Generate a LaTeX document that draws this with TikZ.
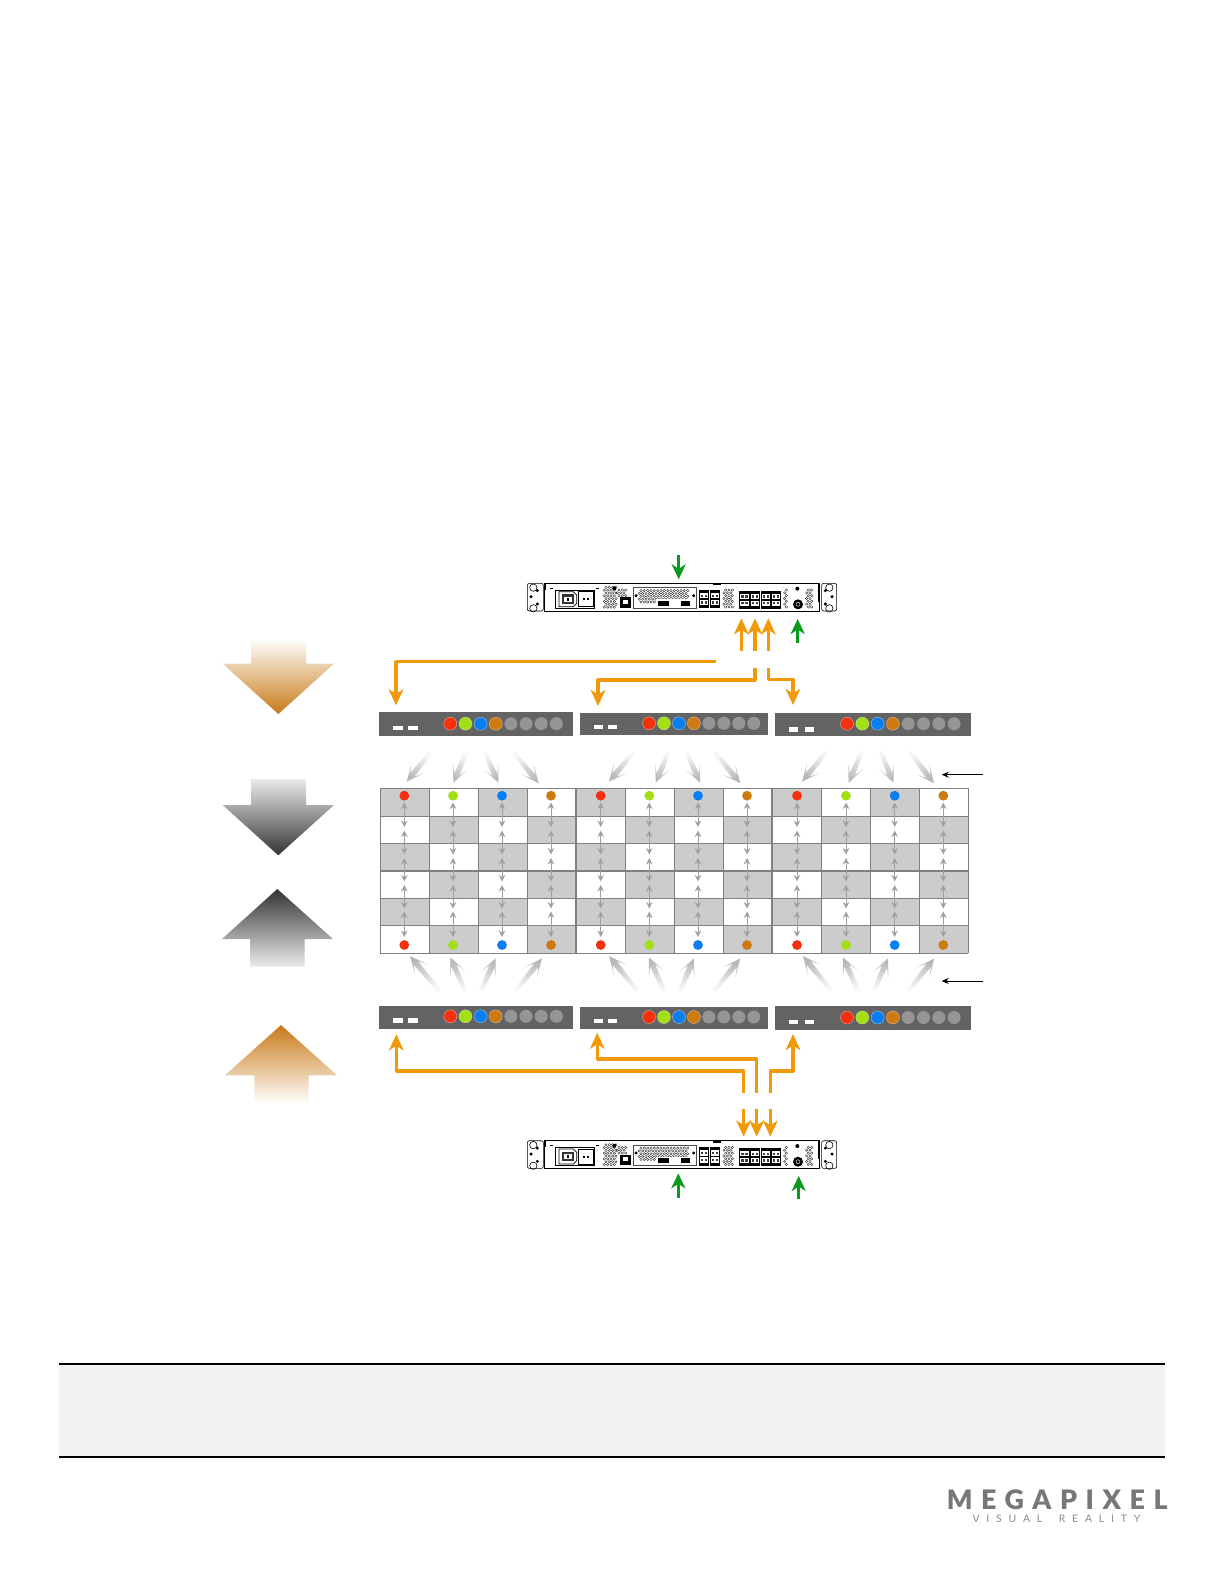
\documentclass[tikz,border=0pt]{standalone}
\usepackage{fontspec}
\setmainfont{Lato}
\newfontfamily\logobig[LetterSpace=32,BoldFont=Lato Black]{Lato}
\newfontfamily\logosmall[LetterSpace=66]{Lato}
\usetikzlibrary{arrows.meta,calc}
\definecolor{panelgray}{HTML}{636363}
\definecolor{ledgray}{HTML}{959595}
\definecolor{cellgray}{HTML}{CCCCCC}
\definecolor{gridline}{HTML}{808080}
\definecolor{flowgray}{HTML}{B8B8B8}
\definecolor{tinyarrow}{HTML}{A0A0A0}
\definecolor{cred}{HTML}{F5300F}
\definecolor{cgreen}{HTML}{A2E013}
\definecolor{cblue}{HTML}{0A7EF0}
\definecolor{cbrown}{HTML}{CF7A10}
\definecolor{linkorange}{HTML}{F09A0A}
\definecolor{linkgreen}{HTML}{0A9A1E}
\definecolor{bigbrown}{HTML}{C87A18}
\definecolor{bigdark}{HTML}{333333}
\definecolor{logogray}{HTML}{777777}
\definecolor{logolight}{HTML}{8C8C8C}
\definecolor{bandgray}{HTML}{F2F2F2}
\tikzset{
  panelbox/.style={fill=panelgray,draw=none,inner sep=0pt,anchor=north west},
  ledon/.style={circle,minimum size=13pt,inner sep=0pt,draw=white,draw opacity=.55,line width=.4pt},
  ledoff/.style={circle,minimum size=13pt,inner sep=0pt,fill=ledgray},
  griddot/.style={circle,minimum size=9.8pt,inner sep=0pt},
  orangelink/.style={draw=linkorange,line width=3.2pt,line join=round,-{Stealth[length=16pt,width=14.5pt,inset=4.5pt]}},
  greenlink/.style={draw=linkgreen,line width=3.4pt,-{Stealth[length=15pt,width=14pt,inset=4.5pt]}},
  tinylink/.style={draw=tinyarrow,line width=1pt,{Stealth[length=6.5pt,width=6.5pt]}-{Stealth[length=6.5pt,width=6.5pt]}},
  blacklink/.style={draw=black,line width=.9pt,-{Stealth[length=7pt,width=6pt]}},
  devline/.style={draw=black,line width=.6pt},
}
% fading flow arrow: tail x,y -> tip x,y
\newcommand\flowarrow[4]{%
  \pgfmathsetmacro\ax{#1}\pgfmathsetmacro\ay{#2}\pgfmathsetmacro\bx{#3}\pgfmathsetmacro\by{#4}%
  \pgfmathsetmacro\ddx{\bx-\ax}\pgfmathsetmacro\ddy{\by-\ay}%
  \pgfmathsetmacro\LL{sqrt(\ddx*\ddx+\ddy*\ddy)}%
  \pgfmathsetmacro\ux{\ddx/\LL}\pgfmathsetmacro\uy{\ddy/\LL}%
  \pgfmathsetmacro\phiang{atan2(-\uy,\ux)+90}%
  \shade[top color=flowgray!12,middle color=flowgray,bottom color=flowgray,shading angle=\phiang]
    ({\ax-\uy*2},{\ay+\ux*2}) -- ({\bx-\ux*9-\uy*2.8},{\by-\uy*9+\ux*2.8})
    -- ({\bx-\ux*18-\uy*8.2},{\by-\uy*18+\ux*8.2}) -- (\bx,\by)
    -- ({\bx-\ux*18+\uy*8.2},{\by-\uy*18-\ux*8.2}) -- ({\bx-\ux*9+\uy*2.8},{\by-\uy*9-\ux*2.8})
    -- ({\ax+\uy*2},{\ay-\ux*2}) -- cycle;%
}
% vent: x0,y0,cols,rows in device units
\newcommand\ventgrid[4]{%
  \foreach \vi in {1,...,#3}{\foreach \vj in {1,...,#4}{%
    \draw[black!85,line width=.35pt] ({#1+(\vi-1)*10+mod(\vj,2)*5},{#2+(\vj-1)*8.5}) circle[radius=3.6];}}%
}
\newcommand\rjport[2]{%
  \fill[black] (#1,#2) rectangle ++(31,55);
  \fill[white] ({#1+3},{#2+9}) rectangle ++(25,16);
  \fill[white] ({#1+3},{#2+30}) rectangle ++(25,16);
  \fill[black!75] ({#1+6},{#2+14}) rectangle ++(7,7);
  \fill[black!75] ({#1+18},{#2+14}) rectangle ++(7,7);
  \fill[black!75] ({#1+6},{#2+34}) rectangle ++(7,7);
  \fill[black!75] ({#1+18},{#2+34}) rectangle ++(7,7);
}
% device drawing in zoom units, origin = zoom corner
\newcommand\rackunit[2]{%
\begin{scope}[shift={(#1,#2)},x=.33333pt,y=-.33333pt]
  \draw[devline,rounded corners=2pt] (52,130) rectangle (100,213);
  \draw[devline,rounded corners=2pt] (935,130) rectangle (980,213);
  \draw[devline] (70,143) circle[radius=11]; \draw[devline] (70,205) circle[radius=11];
  \fill (63,170) circle[radius=5]; \fill (82,152) circle[radius=5]; \fill (82,192) circle[radius=5];
  \draw[devline] (958,143) circle[radius=11]; \draw[devline] (958,205) circle[radius=11];
  \fill (966,170) circle[radius=5]; \fill (946,152) circle[radius=5]; \fill (946,192) circle[radius=5];
  \draw[black,line width=.9pt] (103,130) rectangle (928,213);
  \fill (103,130) rectangle (108,150); \fill (923,130) rectangle (928,185);
  \fill (608,130) rectangle (634,136);
  \draw[black,line width=.8pt] (137,150) rectangle (253,205);
  \draw[black,line width=.7pt] (147,155) -- (190,155) -- (200,165) -- (200,190) -- (190,200) -- (147,200) -- cycle;
  \draw[black,line width=.7pt] (205,155) rectangle (250,200);
  \fill[black!80] (155,163) rectangle (192,192);
  \fill[white] (162,170) rectangle (185,185);
  \fill (170,173) rectangle (177,182);
  \fill (218,175) rectangle (224,181); \fill (232,175) rectangle (238,181);
  \fill (120,143) rectangle (128,147); \fill (258,143) rectangle (266,147);
  \ventgrid{283}{142}{4}{8}
  \ventgrid{322}{150}{3}{3}
  \fill (313,145) circle[radius=6];
  \fill (330,172) rectangle (362,203); \fill[white] (338,180) rectangle (354,192);
  \draw[black!70,line width=.6pt] (370,143) rectangle (560,205);
  \ventgrid{388}{152}{15}{5}
  \fill (378,167) circle[radius=5]; \fill (551,167) circle[radius=5];
  \fill[white] (438,178) rectangle (545,202);
  \fill (443,183) rectangle (478,197); \fill (513,183) rectangle (540,197);
  \rjport{567}{150}\rjport{599}{150}
  \ventgrid{642}{150}{3}{7}
  \rjport{688}{152}\rjport{720}{152}\rjport{752}{152}\rjport{783}{152}
  \ventgrid{824}{150}{1}{7}
  \ventgrid{890}{150}{2}{7}
  \fill (862,146) circle[radius=6];
  \fill (864,193) circle[radius=15]; \draw[white,line width=.4pt] (864,193) circle[radius=6];
\end{scope}}
\begin{document}
\begin{tikzpicture}[x=1pt,y=-1pt]
\useasboundingbox (0,0) rectangle (1224,1584);
\fill[white] (0,0) rectangle (1224,1584);

% left big arrows
\shade[top color=white,bottom color=bigbrown] (251,638.3) -- (306,638.3) -- (306,663.7) -- (334,663.7) -- (278.3,714) -- (222.7,663.7) -- (251,663.7) -- cycle;
\shade[top color=white!92!black,bottom color=bigdark] (251,779) -- (306,779) -- (306,805) -- (334,805) -- (278.3,855.3) -- (222.7,805) -- (251,805) -- cycle;
\shade[top color=bigdark,bottom color=white!92!black] (250,966.7) -- (304.7,966.7) -- (304.7,939) -- (333,939) -- (277.3,889) -- (222,939) -- (250,939) -- cycle;
\shade[top color=bigbrown,bottom color=white] (254.3,1104) -- (308.7,1104) -- (308.7,1075.3) -- (337,1075.3) -- (281,1025) -- (225,1075.3) -- (254.3,1075.3) -- cycle;

% devices
\rackunit{510}{540}
\rackunit{510}{1097.4}

% panels
\node[panelbox,minimum width=193.7pt,minimum height=23.7pt] (pt1) at (379,712) {};
\node[panelbox,minimum width=187.8pt,minimum height=22.4pt] (pt2) at (579.9,712.3) {};
\node[panelbox,minimum width=196pt,minimum height=23pt] (pt3) at (775,712.3) {};
\node[panelbox,minimum width=193.7pt,minimum height=23.4pt] (pb1) at (379,1005.3) {};
\node[panelbox,minimum width=187.8pt,minimum height=22.4pt] (pb2) at (579.9,1006.3) {};
\node[panelbox,minimum width=196pt,minimum height=23.4pt] (pb3) at (775,1006) {};

% panel dashes and LEDs
\newcommand\panelface[8]{%
  \fill[white] (#3,#2) rectangle ++(#7,4.5);
  \fill[white] (#4,#2) rectangle ++(#7,4.5);
  \foreach \k/\col [count=\n] in {0/cred,1/cgreen,2/cblue,3/cbrown}{
    \node[ledon,fill=\col] (#8led\n) at ({#5+\k*#6},#1) {};}
  \foreach \k/\m in {4/5,5/6,6/7,7/8}{
    \node[ledoff] (#8led\m) at ({#5+\k*#6},#1) {};}
}
\panelface{723.7}{725.7}{392.7}{408}{450.3}{15.15}{10}{ta}
\panelface{723.3}{724.7}{593.7}{607.7}{649}{14.97}{9.6}{tb}
\panelface{723.7}{727}{788.7}{804.7}{847}{15.3}{9.6}{tc}
\panelface{1016.3}{1018}{392.7}{408}{450.3}{15.15}{10}{ba}
\panelface{1017}{1018.7}{593.7}{607.7}{649}{14.97}{9.6}{bb}
\panelface{1017.5}{1019.5}{788.7}{804.7}{847}{15.3}{9.6}{bc}

% grid
\foreach \cx in {380.3,429.3,478.3,527.3,576.3,625.3,674.3,723.3,772.3,821.3,870.3,919.3}{
  \foreach \ry [count=\rr] in {788.7,816.1,843.6,871,898.4,925.9}{
    \pgfmathtruncatemacro\cellodd{mod(round((\cx-380.3)/49)+\rr,2)}
    \ifnum\cellodd=1 \fill[cellgray] (\cx,\ry) rectangle ++(49,27.43);\fi
  }
}
\foreach \ry in {816.1,843.6,871,898.4,925.9}{\draw[gridline,line width=1.1pt] (380.3,\ry) -- (968.3,\ry);}
\foreach \cx in {429.3,478.3,527.3,625.3,674.3,723.3,821.3,870.3,919.3}{\draw[gridline,line width=1.1pt] (\cx,788.7) -- (\cx,953.3);}
\foreach \cx in {576.3,772.3}{\draw[gridline,line width=1.8pt] (\cx,788.7) -- (\cx,953.3);}
\draw[gridline,line width=1.1pt] (380.3,953.3) -- (380.3,788.7) -- (968.3,788.7) -- (968.3,953.3);
\draw[gridline,line width=1.6pt] (380.3,953.3) -- (968.3,953.3);

% grid dots and internal arrows
\foreach \dx/\col [count=\c] in {404.3/cred,453/cgreen,502/cblue,551/cbrown,600.7/cred,649.3/cgreen,698/cblue,747/cbrown,797/cred,846/cgreen,894.7/cblue,943.3/cbrown}{
  \node[griddot,fill=\col] (dt\c) at (\dx,795.7) {};
  \node[griddot,fill=\col] (db\c) at (\dx,945) {};
  \foreach \ya/\yb in {802.5/827,830.5/854.5,858/881.5,885/908.5,911.5/937}{
    \draw[tinylink] (\dx,\ya) -- (\dx,\yb);
  }
}

% flow arrows, top row
\foreach \xa/\ya/\xb/\yb in {180/340/110/425,288/340/250/428,345/338/385/428,432/338/506/430,790/338/717/425,895/338/857/428,950/338/990/428,1035/338/1111/430}{
  \flowarrow{370+\xa/3}{640+\ya/3}{370+\xb/3}{640+\yb/3}
}
\foreach \xa/\ya/\xb/\yb in {170/155/96/245,275/155/236/248,332/155/370/248,418/155/492/250}{
  \flowarrow{770+\xa/3}{700+\ya/3}{770+\xb/3}{700+\yb/3}
}
% flow arrows, bottom row
\foreach \xa/\ya/\xb/\yb in {208/272/120/168,285/272/241/172,333/272/377/175,437/272/516/175,802/272/717/168,882/272/837/172,930/272/972/175,1033/272/1111/175}{
  \flowarrow{370+\xa/3}{900+\ya/3}{370+\xb/3}{900+\yb/3}
}
\foreach \xa/\ya/\xb/\yb in {802/272/717/168,882/272/837/172,930/272/972/175,1033/272/1111/175}{
  \flowarrow{564+\xa/3}{900+\ya/3}{564+\xb/3}{900+\yb/3}
}

% named ends
\coordinate (ou1a) at (741.3,650.7); \coordinate (ou1b) at (741.3,618.3);
\coordinate (ou2a) at (755,650.7);   \coordinate (ou2b) at (755,618.3);
\coordinate (ou3a) at (768.3,650.7); \coordinate (ou3b) at (768.3,618.3);
\coordinate (l1s) at (716,661.6);    \coordinate (l1e) at (396,705.3);
\coordinate (l2s) at (755,668);      \coordinate (l2e) at (598,706);
\coordinate (l3s) at (768.3,668);    \coordinate (l3e) at (793,705);
\coordinate (m1s) at (743.5,1092.7); \coordinate (m1e) at (396.3,1034.3);
\coordinate (m2s) at (756.5,1092.7); \coordinate (m2e) at (597.3,1032.7);
\coordinate (m3s) at (770.3,1092.7); \coordinate (m3e) at (793,1034);
\coordinate (od1a) at (743.7,1109);  \coordinate (od1b) at (743.7,1136.7);
\coordinate (od2a) at (756.7,1109);  \coordinate (od2b) at (756.7,1136.7);
\coordinate (od3a) at (770.3,1109);  \coordinate (od3b) at (770.3,1136.7);
\coordinate (g1a) at (678.7,555);    \coordinate (g1b) at (678.7,579.3);
\coordinate (g2a) at (797.7,642.7);  \coordinate (g2b) at (797.7,619);
\coordinate (g3a) at (678.3,1197.7); \coordinate (g3b) at (678.3,1173.3);
\coordinate (g4a) at (798.7,1199.3); \coordinate (g4b) at (798.7,1176);
\coordinate (k1a) at (983.3,774.7);  \coordinate (k1b) at (941.7,774.7);
\coordinate (k2a) at (983.3,981);    \coordinate (k2b) at (941.7,981);

% orange links
\draw[orangelink] (ou1a) -- (ou1b);
\draw[orangelink] (ou2a) -- (ou2b);
\draw[orangelink] (ou3a) -- (ou3b);
\draw[orangelink] (l1s) -| (l1e);
\draw[orangelink] (l2s) |- (598,680) -- (l2e);
\draw[orangelink] (l3s) |- (793,679.3) -- (l3e);
\draw[orangelink] (m1s) |- (396.3,1071) -- (m1e);
\draw[orangelink] (m2s) |- (597.3,1059) -- (m2e);
\draw[orangelink] (m3s) |- (793,1071) -- (m3e);
\draw[orangelink] (od1a) -- (od1b);
\draw[orangelink] (od2a) -- (od2b);
\draw[orangelink] (od3a) -- (od3b);

% green links
\draw[greenlink] (g1a) -- (g1b);
\draw[greenlink] (g2a) -- (g2b);
\draw[greenlink] (g3a) -- (g3b);
\draw[greenlink] (g4a) -- (g4b);

% black pointers
\draw[blacklink] (k1a) -- (k1b);
\draw[blacklink] (k2a) -- (k2b);

% footer band
\fill[bandgray] (59,1364) rectangle (1164.6,1457);
\draw[black,line width=2pt] (59,1364) -- (1164.6,1364);
\draw[black,line width=2pt] (59,1457) -- (1164.6,1457);

% logo
\node[anchor=base west,inner sep=0pt,text=logogray,font={\logobig\bfseries\fontsize{26.8pt}{26.8pt}\selectfont}] (logoa) at (946.7,1509.3) {MEGAPIXEL};
\node[anchor=base west,inner sep=0pt,text=logolight,font={\logosmall\fontsize{10.4pt}{10.4pt}\selectfont}] (logob) at (972.3,1522.3) {VISUAL\hspace{7pt} REALITY};
\end{tikzpicture}
\end{document}
